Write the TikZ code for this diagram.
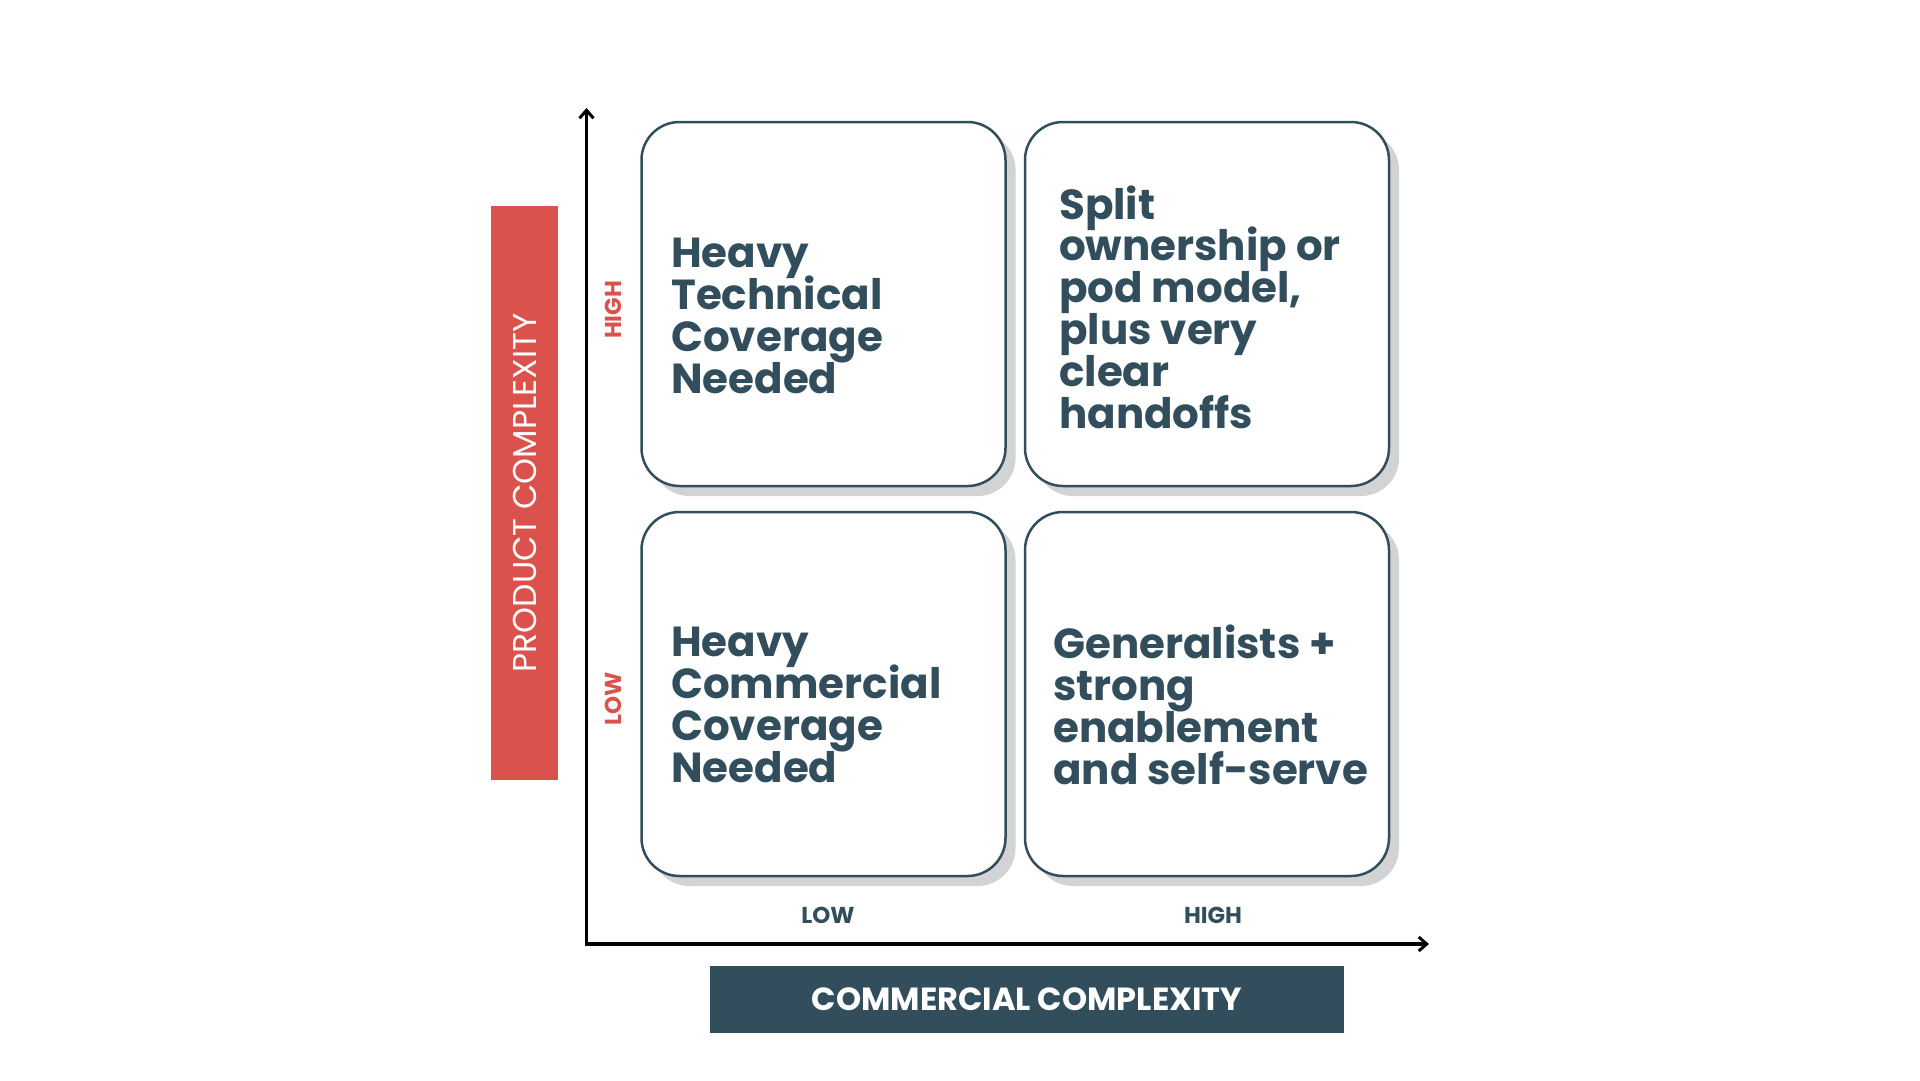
\documentclass[tikz,border=0pt]{standalone}
\usepackage{fontspec}
\setmainfont{Poppins}
\newcommand{\tightlines}{\lineskiplimit=-1000pt\relax}
\usetikzlibrary{arrows.meta,shadows}
\definecolor{navy}{HTML}{324E5D}
\definecolor{redbar}{HTML}{DB524D}
\definecolor{shadowgray}{HTML}{D1D3D5}
\begin{document}
\begin{tikzpicture}[x=1pt,y=1pt,
  quad/.style={draw=navy, line width=2.5pt, fill=white, rounded corners=38pt,
    minimum width=364pt, minimum height=364pt,
    general shadow={fill=shadowgray, shadow xshift=10pt, shadow yshift=-10pt}},
  quadtext/.style={anchor=west, align=left, text=navy, font={\fontsize{42}{41.8}\selectfont\tightlines\bfseries}, inner sep=0pt},
  axis/.style={line width=3.5pt, black, -{Straight Barb[length=8pt,width=14pt,line width=3pt]}},
  ticklabel/.style={font=\fontsize{23}{23}\selectfont\bfseries, inner sep=0pt},
  titlebar/.style={inner sep=0pt, font=\fontsize{33}{33}\selectfont, text=white}
]
\useasboundingbox (0,0) rectangle (1920,-1080);
\fill[white] (0,0) rectangle (1920,-1080);

% axes
\coordinate (origin) at (586.5,-944);
\coordinate (ytop) at (586.5,-108);
\coordinate (xend) at (1429,-944);
\draw[axis] ([yshift=-1.75pt]origin) -- (ytop);
\draw[axis] ([xshift=-1.75pt]origin) -- (xend);

% side bars
\node[fill=redbar, minimum width=67pt, minimum height=574pt, inner sep=0pt] (pbar) at (524.5,-493) {};
\node[titlebar, rotate=90] (ptext) at (pbar.center) {PRODUCT COMPLEXITY};
\node[fill=navy, minimum width=634.5pt, minimum height=67.5pt, inner sep=0pt] (cbar) at (1027,-999.5) {};
\node[titlebar, font=\fontsize{32}{32}\selectfont\bfseries] (ctext) at (cbar.center) {COMMERCIAL COMPLEXITY};

% quadrants
\node[quad] (tl) at (823.5,-304) {};
\node[quad] (tr) at (1207,-304) {};
\node[quad] (bl) at (823.5,-694) {};
\node[quad] (br) at (1207,-694) {};

\node[quadtext] (tlt) at (671,-316) {Heavy\\Technical\\Coverage\\Needed};
\node[quadtext] (trt) at (1059,-307) {Split\\ownership or\\pod model,\\plus very\\clear\\handoffs};
\node[quadtext] (blt) at (671,-705) {Heavy\\Commercial\\Coverage\\Needed};
\node[quadtext] (brt) at (1053,-705) {Generalists +\\strong\\enablement\\and self-serve};

% tick labels
\node[ticklabel, text=navy] (xlow) at (828,-915) {LOW};
\node[ticklabel, text=navy] (xhigh) at (1213,-915) {HIGH};
\node[ticklabel, text=redbar, rotate=90] (yhigh) at (613.5,-310) {HIGH};
\node[ticklabel, text=redbar, rotate=90] (ylow) at (613.5,-699) {LOW};
\end{tikzpicture}
\end{document}
